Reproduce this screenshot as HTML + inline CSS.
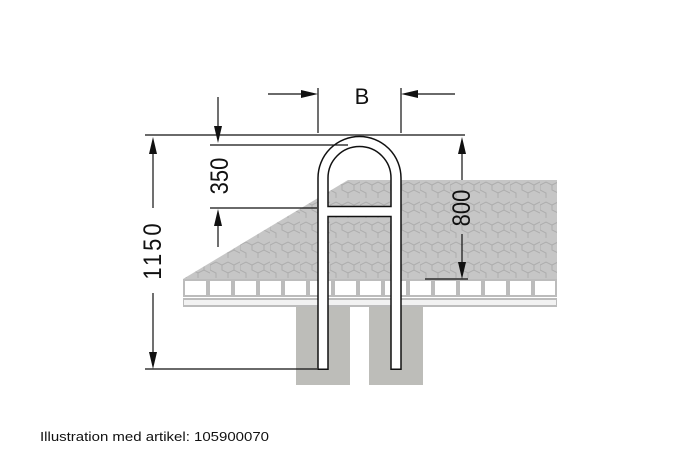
<!DOCTYPE html>
<html><head><style>html,body{margin:0;padding:0;background:#fff;width:700px;height:467px;overflow:hidden}</style></head>
<body>
<svg width="700" height="467" viewBox="0 0 700 467" xmlns="http://www.w3.org/2000/svg">
<defs>
<pattern id="pv" width="30" height="20" patternUnits="userSpaceOnUse">
<rect width="30" height="20" fill="#c6c6c6"/>
<path d="M0 5 L6 2 L12 5 L12 10 L18 13 L24 10 L30 13 M12 5 L18 2 L24 5 L24 10 M0 5 L0 10 L6 13 L6 18 M18 13 L18 18 M24 5 L30 2" stroke="#adadad" stroke-width="1" fill="none"/>
</pattern>
</defs>
<polygon points="348,180 557,180 557,279 183,279" fill="url(#pv)"/>
<rect x="183" y="279" width="374" height="18" fill="#bcbcbc"/>
<g fill="#fff">
<rect x="185" y="281" width="21" height="14"/><rect x="210" y="281" width="21" height="14"/><rect x="235" y="281" width="21" height="14"/><rect x="260" y="281" width="21" height="14"/><rect x="285" y="281" width="21" height="14"/><rect x="310" y="281" width="21" height="14"/><rect x="335" y="281" width="21" height="14"/><rect x="360" y="281" width="21" height="14"/><rect x="385" y="281" width="21" height="14"/><rect x="410" y="281" width="21" height="14"/><rect x="435" y="281" width="21" height="14"/><rect x="460" y="281" width="21" height="14"/><rect x="485" y="281" width="21" height="14"/><rect x="510" y="281" width="21" height="14"/><rect x="535" y="281" width="20" height="14"/>
</g>
<rect x="183" y="298" width="374" height="9" fill="#bcbcbc"/>
<rect x="184" y="300" width="372" height="5" fill="#f2f2f2"/>
<rect x="296" y="307" width="54" height="78" fill="#bdbdb9"/>
<rect x="369" y="307" width="54" height="78" fill="#bdbdb9"/>
<!-- bar as tube -->
<g fill="none" stroke-linecap="butt" stroke-linejoin="miter">
<path d="M323 370 L323 178 A36.5 36.5 0 0 1 396 178 L396 370 M323 211.5 L396 211.5" stroke="#111" stroke-width="11.5"/>
<path d="M323 368.5 L323 178 A36.5 36.5 0 0 1 396 178 L396 368.5 M323 211.5 L396 211.5" stroke="#fff" stroke-width="8.5"/>
</g>
<g stroke="#111" stroke-width="1.2" fill="none">
<line x1="145" y1="135" x2="465" y2="135"/>
<line x1="210" y1="145" x2="348" y2="145"/>
<line x1="210" y1="208" x2="317" y2="208"/>
<line x1="145" y1="369" x2="317" y2="369"/>
<line x1="425" y1="279" x2="468" y2="279"/>
<line x1="318" y1="88" x2="318" y2="133"/>
<line x1="401" y1="88" x2="401" y2="133"/>
<line x1="268" y1="94" x2="312" y2="94"/>
<line x1="455" y1="94" x2="407" y2="94"/>
<line x1="218" y1="97" x2="218" y2="138"/>
<line x1="218" y1="214" x2="218" y2="247"/>
<line x1="153" y1="143" x2="153" y2="208"/>
<line x1="153" y1="293" x2="153" y2="363"/>
<line x1="462" y1="143" x2="462" y2="180"/>
<line x1="462" y1="234" x2="462" y2="273"/>
</g>
<g fill="#111">
<polygon points="318,94 301,90 301,98"/>
<polygon points="401,94 418,90 418,98"/>
<polygon points="218,143 214,126 222,126"/>
<polygon points="218,209 214,226 222,226"/>
<polygon points="153,137 149,154 157,154"/>
<polygon points="153,369 149,352 157,352"/>
<polygon points="462,137 458,154 466,154"/>
<polygon points="462,279 458,262 466,262"/>
</g>
<g font-family="Liberation Sans, sans-serif" fill="#111">
<text x="362" y="104" font-size="22" text-anchor="middle">B</text>
<text transform="translate(228,176) rotate(-90) scale(1,1.15)" font-size="22" text-anchor="middle">350</text>
<text transform="translate(161,250) rotate(-90) scale(1,1.15)" font-size="22" text-anchor="middle" letter-spacing="3">1150</text>
<text transform="translate(470,208) rotate(-90) scale(1,1.15)" font-size="22" text-anchor="middle">800</text>
<text x="40" y="441" font-size="13" textLength="229" lengthAdjust="spacingAndGlyphs">Illustration med artikel: 105900070</text>
</g>
</svg>
</body></html>
